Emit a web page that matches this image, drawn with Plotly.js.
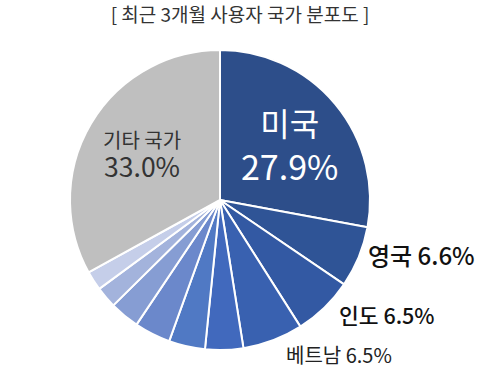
<!DOCTYPE html>
<html>
<head>
<meta charset="utf-8">
<script src="https://cdn.plot.ly/plotly-3.0.1.min.js"></script>
<style>
  html, body { margin: 0; padding: 0; background: #fff; }
  #chart { width: 500px; height: 381px; }
</style>
</head>
<body>
<div id="chart"></div>
<script>
// Data
const categories = ['미국', '영국', '인도', '베트남', '국가5', '국가6', '국가7', '국가8', '국가9', '국가10', '기타 국가'];
const shares = [27.9, 6.6, 6.5, 6.5, 4.1, 3.9, 3.9, 3.2, 2.3, 2.1, 33.0];
const sliceColors = ['#2D4E8A', '#2F5496', '#3359A3', '#3961B0', '#4169BD', '#5079C4',
                     '#6B88CB', '#869DD3', '#A3B3DC', '#C5CEE9', '#BFBFBF'];
const chartTitle = '[ 최근 3개월 사용자 국가 분포도 ]';

const W = 500, H = 381;
const px = x => x / W;
const py = y => (H - y) / H;
const FONT = 'Noto Sans CJK KR, Noto Sans, sans-serif';
const pct = i => shares[i].toFixed(1) + '%';

const trace = {
  type: 'pie',
  labels: categories,
  values: shares,
  sort: false,
  direction: 'clockwise',
  rotation: 0,
  textinfo: 'none',
  hoverinfo: 'label+percent',
  marker: { colors: sliceColors, line: { color: '#ffffff', width: 2 } },
  domain: { x: [px(70), px(370)], y: [py(350), py(50)] },
  showlegend: false
};

const ann = (text, x, y, size, color, xanchor, weight) => ({
  text: text, x: px(x), y: py(y), xref: 'paper', yref: 'paper',
  xanchor: xanchor || 'center', yanchor: 'middle', showarrow: false,
  font: { family: FONT, size: size, color: color, weight: weight || 400 }
});

const annotations = [
  ann('<span style="font-size:32px">' + categories[0] + '</span><br>' + pct(0), 289, 144, 34, '#ffffff'),
  ann('<span style="font-size:20px">' + categories[10] + '</span><br><span style="font-size:26.5px">' + pct(10) + '</span>', 142, 155, 22.5, '#333333'),
  ann(categories[1] + ' ' + pct(1), 366, 254, 24, '#111111', 'left', 500),
  ann(categories[2] + ' ' + pct(2), 337, 314, 21.5, '#111111', 'left', 500),
  ann(categories[3] + ' ' + pct(3), 284, 354, 20, '#222222', 'left', 400)
];

const layout = {
  width: W, height: H,
  margin: { l: 0, r: 0, t: 0, b: 0 },
  paper_bgcolor: '#ffffff',
  title: {
    text: chartTitle,
    x: px(240), xanchor: 'center',
    y: py(15), yanchor: 'middle',
    xref: 'paper', yref: 'container',
    font: { family: FONT, size: 19, color: '#333333' }
  },
  annotations: annotations
};

Plotly.newPlot('chart', [trace], layout, { displayModeBar: false, staticPlot: true });
</script>
</body>
</html>
